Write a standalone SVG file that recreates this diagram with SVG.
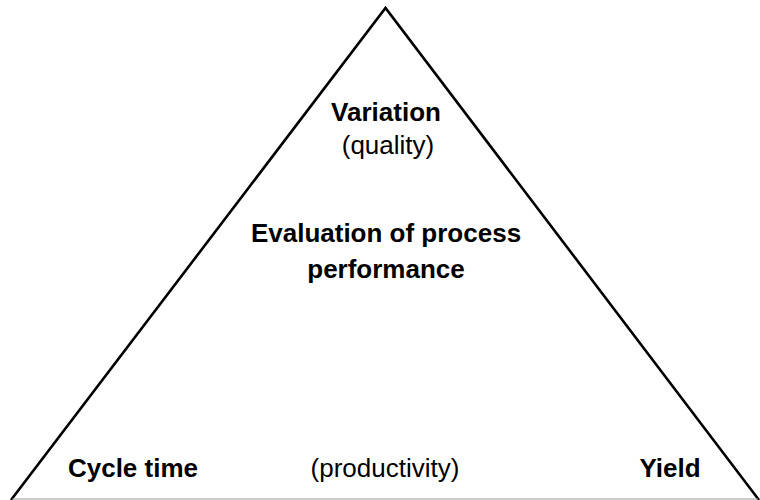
<svg xmlns="http://www.w3.org/2000/svg" width="760" height="500" viewBox="0 0 760 500">
  <style>
    .side { fill: none; stroke: #000; stroke-width: 2.6; stroke-linejoin: miter; }
    .base { stroke: #999; stroke-width: 1.2; }
    .b { font-family: "Liberation Sans", Arial, sans-serif; font-size: 26px; font-weight: bold; fill: #000; text-anchor: middle; }
    .r { font-family: "Liberation Sans", Arial, sans-serif; font-size: 26px; fill: #000; text-anchor: middle; }
  </style>
  <rect width="760" height="500" fill="#fff"/>
  <g id="connectors">
    <polyline class="side" points="11,500 385.5,8 759,500"/>
    <line class="base" x1="12" y1="499" x2="758" y2="499"/>
  </g>
  <g id="top">
    <text class="b" x="386" y="121">Variation</text>
    <text class="r" x="388" y="154">(quality)</text>
  </g>
  <g id="center">
    <text class="b" x="386" y="242">Evaluation of process</text>
    <text class="b" x="386" y="278">performance</text>
  </g>
  <g id="left">
    <text class="b" x="133" y="477">Cycle time</text>
  </g>
  <g id="middle">
    <text class="r" x="385" y="477">(productivity)</text>
  </g>
  <g id="right">
    <text class="b" x="670" y="477">Yield</text>
  </g>
</svg>
